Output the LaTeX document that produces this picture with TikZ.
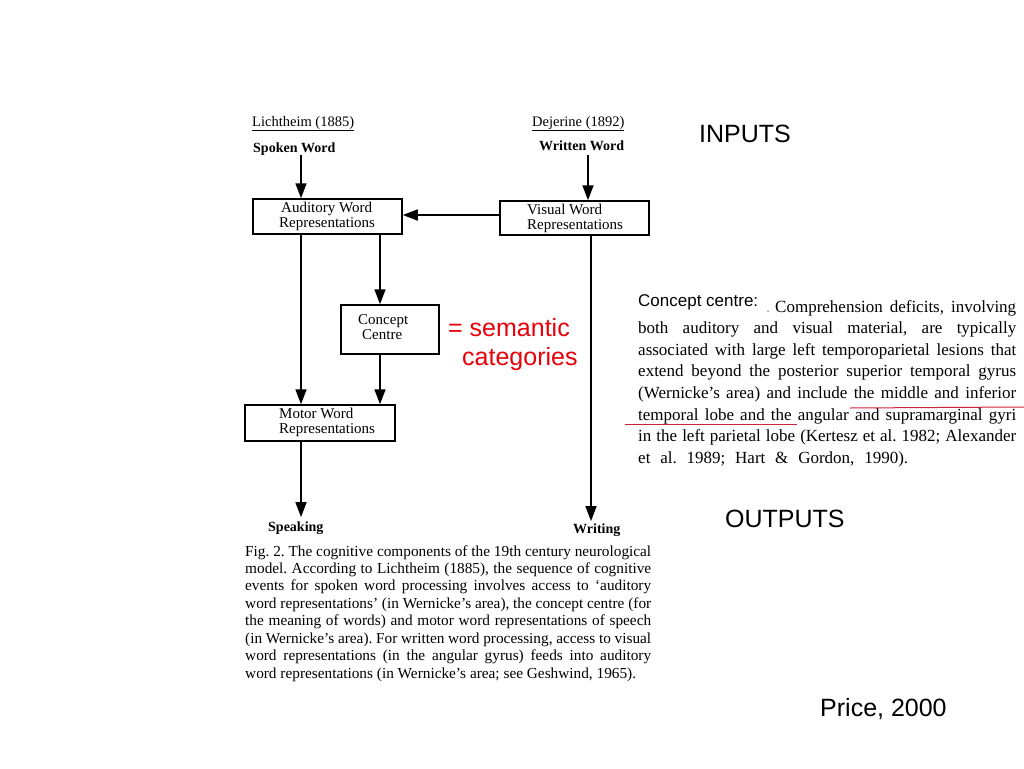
\documentclass[tikz,border=0pt]{standalone}
\usepackage{fontspec}
\setmainfont{Liberation Serif}
\setsansfont{Liberation Sans}
\usetikzlibrary{arrows.meta,calc}
\definecolor{redt}{RGB}{232,0,10}
\definecolor{redl}{RGB}{205,35,55}
\frenchspacing
\tikzset{
  box/.style={draw, line width=1.5pt, inner sep=0pt},
  bt/.style={font=\fontsize{15}{15}\selectfont, anchor=base west, inner sep=0pt},
  hb/.style={font=\fontsize{14.5}{14.5}\selectfont, anchor=base west, inner sep=0pt},
  bb/.style={font=\fontsize{14}{14}\selectfont\bfseries, anchor=base west, inner sep=0pt},
  arr/.style={line width=1.7pt, -{Triangle[length=15pt,width=11pt]}},
  big/.style={font=\fontsize{25}{25}\selectfont\sffamily, anchor=base west, inner sep=0pt},
  ptxt/.style={font=\fontsize{17}{17}\selectfont, anchor=base west, inner sep=0pt},
  ctxt/.style={font=\fontsize{15.3}{15.3}\selectfont, anchor=base west, inner sep=0pt},
  uline/.style={draw=redl, line width=1pt},
}
\begin{document}
\begin{tikzpicture}[x=1pt,y=-1pt]
\fill[white] (0,0) rectangle (1024,768);
\useasboundingbox (0,0) rectangle (1024,768);

% headers
\node[hb] (lich) at (252,126) {\underline{Lichtheim (1885)}};
\node[bb] (spoken) at (253,152) {Spoken Word};
\node[hb] (dej) at (532,126) {\underline{Dejerine (1892)}};
\node[bb] (written) at (539,150) {Written Word};

% boxes
\node[box, minimum width=149pt, minimum height=35pt] (aud) at (327.5,216.5) {};
\node[box, minimum width=149pt, minimum height=34pt] (vis) at (574.5,218) {};
\node[box, minimum width=98pt, minimum height=49pt] (con) at (390,329.5) {};
\node[box, minimum width=150pt, minimum height=36pt] (mot) at (320,423) {};

\node[bt] (audA) at (281,212) {Auditory Word};
\node[bt] (audB) at (279,227) {Representations};
\node[bt] (visA) at (527,214) {Visual Word};
\node[bt] (visB) at (527,229) {Representations};
\node[bt] (conA) at (358,324) {Concept};
\node[bt] (conB) at (362,339) {Centre};
\node[bt] (motA) at (279,418) {Motor Word};
\node[bt] (motB) at (279,433) {Representations};

% outputs
\node[bb] (speak) at (268,531) {Speaking};
\node[bb] (writ) at (573,533) {Writing};

% arrows
\coordinate (L) at (301,0);
\coordinate (R) at (380,0);
\coordinate (W) at (588,0);
\coordinate (W2) at (591,0);
\coordinate (H) at (0,215);
\draw[arr] (spoken.south -| L) -- (aud.north -| L);
\draw[arr] ($(written.south -| W)+(0,5)$) -- (vis.north -| W);
\draw[arr] (vis.west |- H) -- (aud.east |- H);
\draw[arr] (aud.south -| L) -- (mot.north -| L);
\draw[arr] (aud.south -| R) -- (con.north -| R);
\draw[arr] (con.south -| R) -- (mot.north -| R);
\draw[arr, shorten >=4pt] (mot.south -| L) -- (speak.north -| L);
\draw[arr, shorten >=2pt] (vis.south -| W2) -- (writ.north -| W2);

% red annotation
\node[big, text=redt] (sem) at (448,336) {= semantic};
\node[big, text=redt] (cat) at (462,365) {categories};

% big labels
\node[big] (inp) at (699,142) {INPUTS};
\node[big] (outp) at (725,527) {OUTPUTS};
\node[big] (price) at (820,716) {Price, 2000};

% paragraph
\node[font=\fontsize{17}{17}\selectfont\sffamily, anchor=base west, inner sep=0pt] (cc) at (638,306) {Concept centre:};
\node[ptxt, text=black!35] (pdot) at (766,312) {.};
\node[ptxt] (p1) at (775,312) {\makebox[241pt][s]{Comprehension deficits, involving}};
\node[ptxt] (p2) at (638,333.6) {\makebox[378pt][s]{both auditory and visual material, are typically}};
\node[ptxt] (p3) at (638,355.2) {\makebox[378pt][s]{associated with large left temporoparietal lesions that}};
\node[ptxt] (p4) at (638,376.8) {\makebox[378pt][s]{extend beyond the posterior superior temporal gyrus}};
\node[ptxt] (p5) at (638,398.4) {\makebox[378pt][s]{(Wernicke’s area) and include the middle and inferior}};
\node[ptxt] (p6) at (638,420) {\makebox[378pt][s]{temporal lobe and the angular and supramarginal gyri}};
\node[ptxt] (p7) at (638,441.6) {\makebox[378pt][s]{in the left parietal lobe (Kertesz et al. 1982; Alexander}};
\node[ptxt] (p8) at (638,463.2) {\makebox[270pt][s]{et al. 1989; Hart \& Gordon, 1990).}};
\coordinate (u1a) at (850,408);
\coordinate (u1b) at (1024,407);
\coordinate (u2a) at (625,424);
\coordinate (u2b) at (797,424);
\draw[uline] (u1a) -- (u1b);
\draw[uline] (u2a) -- (u2b);

% caption
\node[ctxt] (c1) at (245,556) {\makebox[406pt][s]{Fig. 2. The cognitive components of the 19th century neurological}};
\node[ctxt] (c2) at (245,573.4) {\makebox[406pt][s]{model. According to Lichtheim (1885), the sequence of cognitive}};
\node[ctxt] (c3) at (245,590.9) {\makebox[406pt][s]{events for spoken word processing involves access to ‘auditory}};
\node[ctxt] (c4) at (245,608.3) {\makebox[406pt][s]{word representations’ (in Wernicke’s area), the concept centre (for}};
\node[ctxt] (c5) at (245,625.7) {\makebox[406pt][s]{the meaning of words) and motor word representations of speech}};
\node[ctxt] (c6) at (245,643.1) {\makebox[406pt][s]{(in Wernicke’s area). For written word processing, access to visual}};
\node[ctxt] (c7) at (245,660.5) {\makebox[406pt][s]{word representations (in the angular gyrus) feeds into auditory}};
\node[ctxt] (c8) at (245,678) {word representations (in Wernicke’s area; see Geshwind, 1965).};
\end{tikzpicture}
\end{document}
